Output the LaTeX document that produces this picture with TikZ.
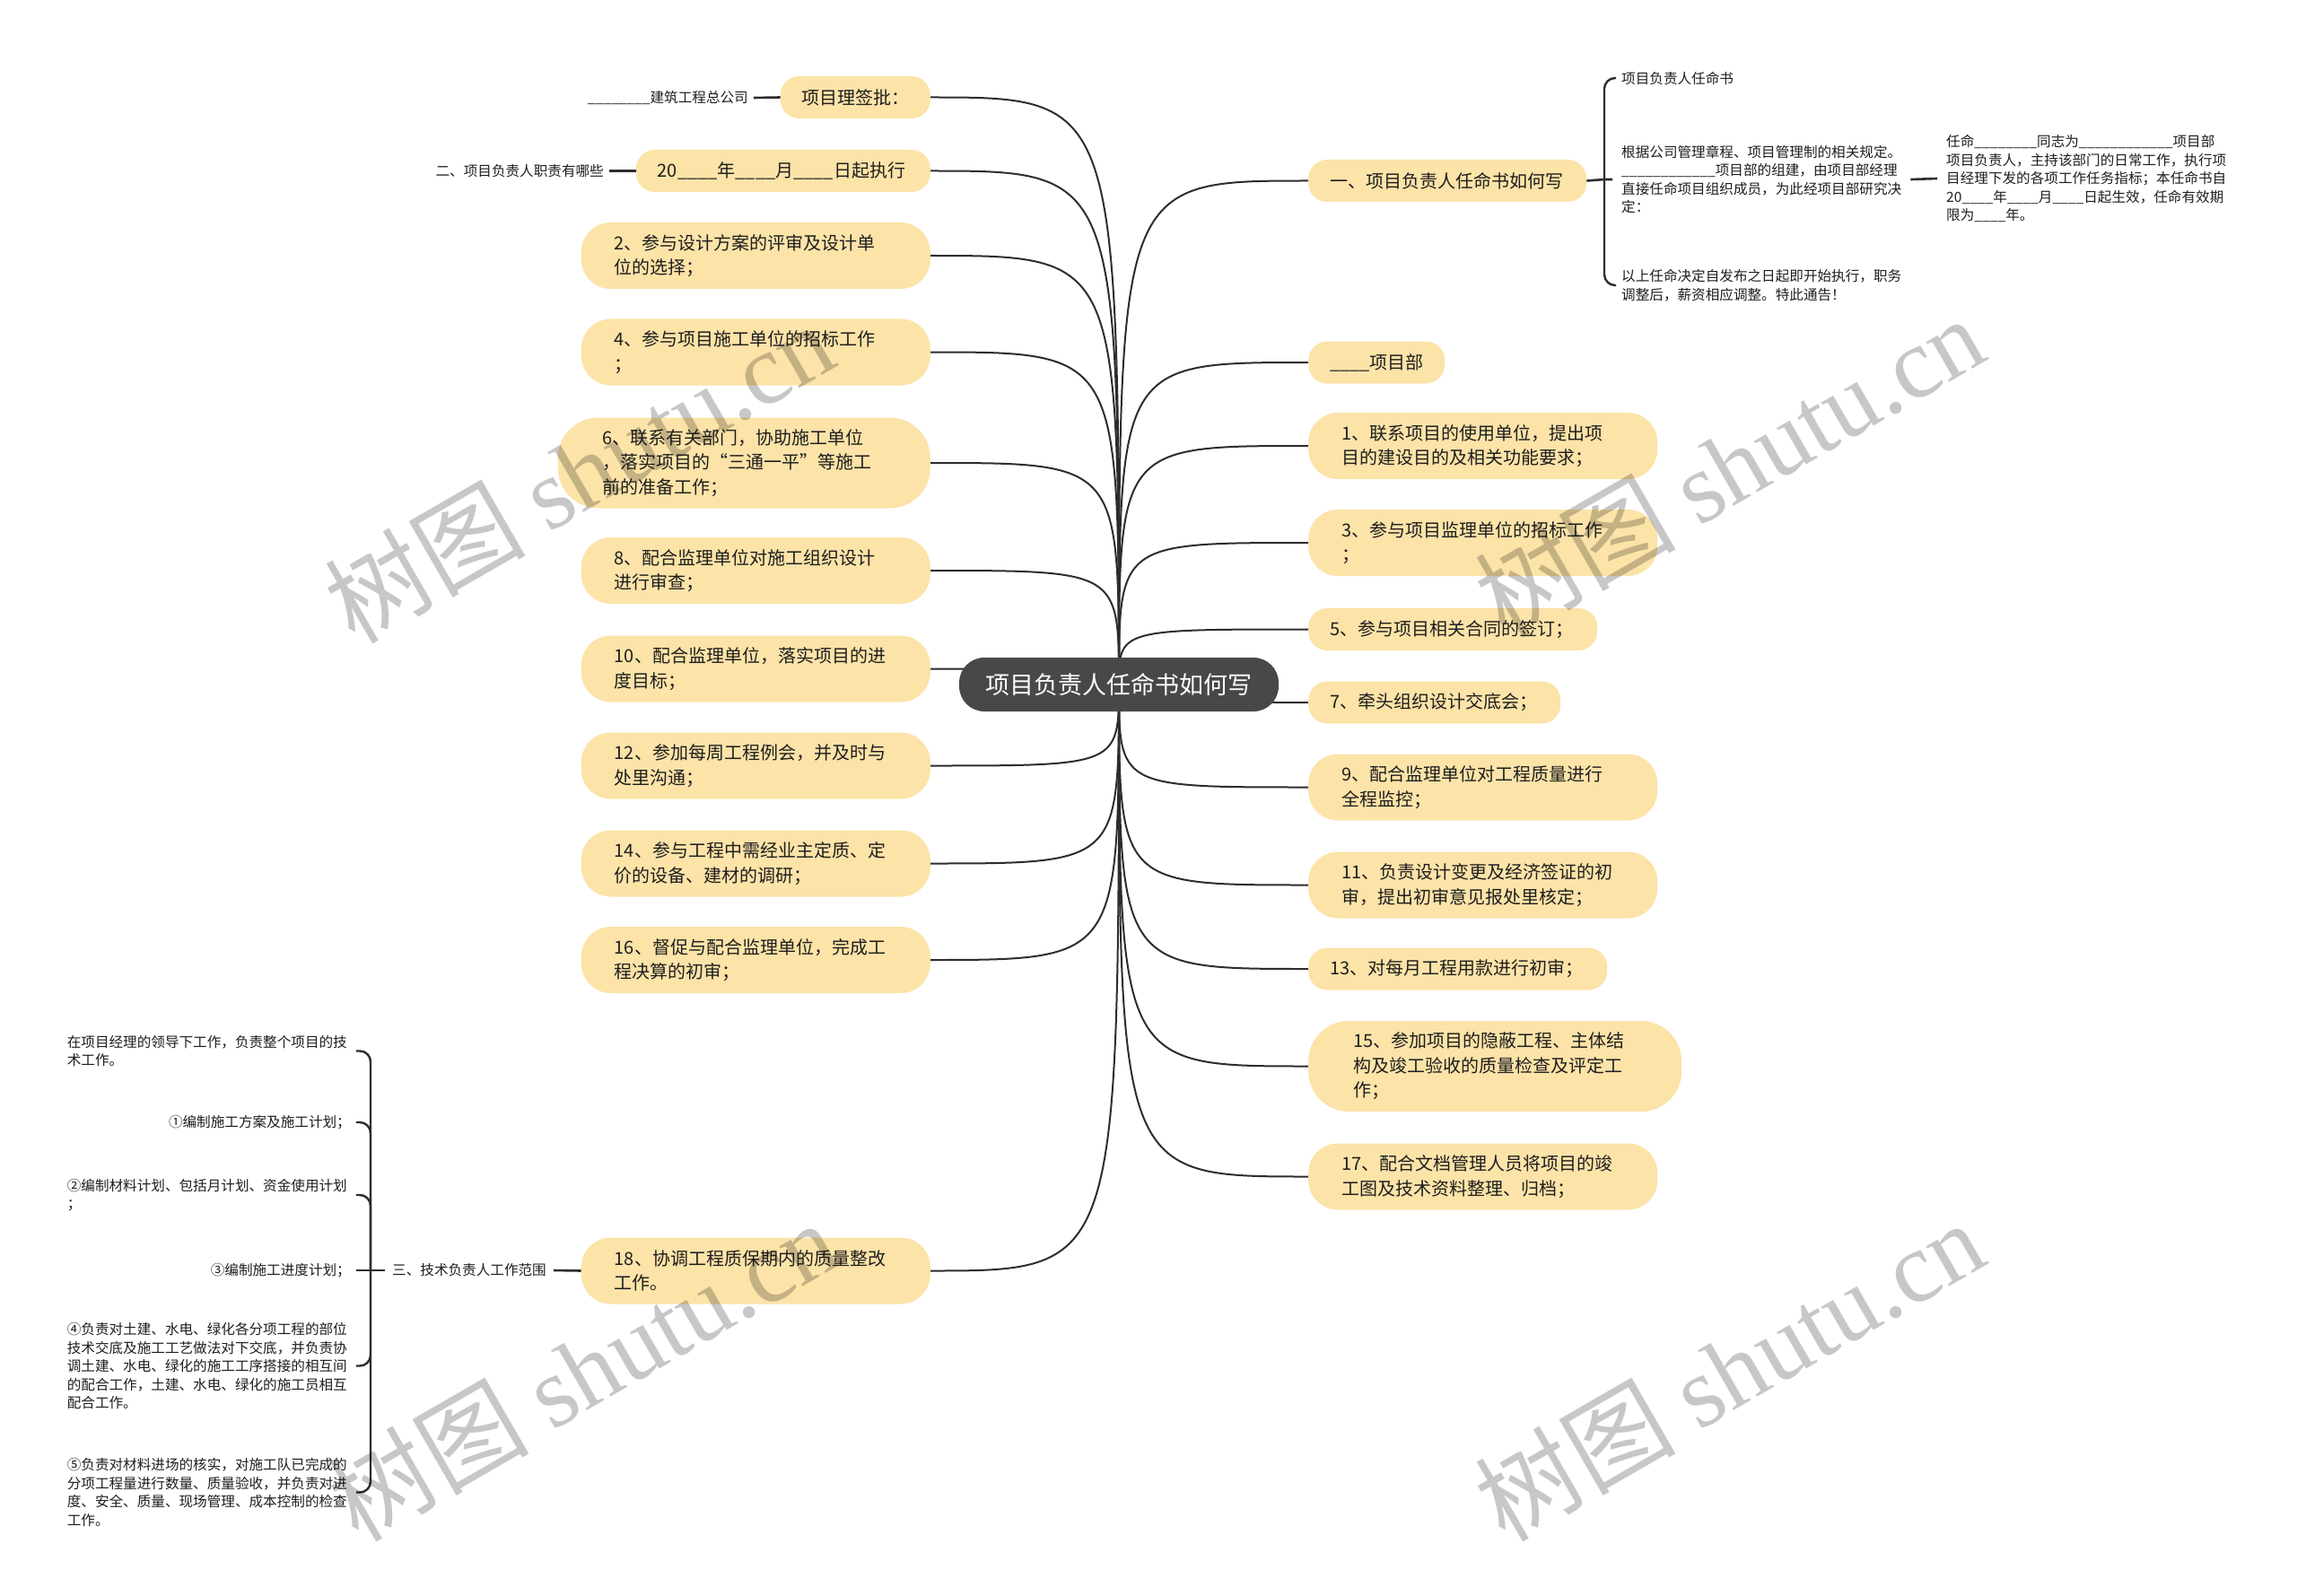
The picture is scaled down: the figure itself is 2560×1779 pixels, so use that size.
\documentclass[tikz,border=0pt]{standalone}
\usepackage{fontspec}
\setmainfont{Noto Sans CJK SC}
\newfontfamily\wmserif{Liberation Serif}
\usetikzlibrary{backgrounds}
\definecolor{peach}{RGB}{252,227,168}
\definecolor{hubgray}{RGB}{72,72,72}
\definecolor{linec}{RGB}{45,45,45}
\definecolor{txt}{RGB}{30,30,30}
\tikzset{
 leafn/.style={fill=peach, draw=none, align=left, inner ysep=0pt, text=txt, font=\fontsize{20pt}{27.5pt}\selectfont},
 oneln/.style={leafn, minimum height=47pt, rounded corners=21pt, inner xsep=24pt},
 twoln/.style={leafn, minimum height=74pt, rounded corners=33pt, inner xsep=37pt},
 threeln/.style={leafn, minimum height=101pt, rounded corners=45pt, inner xsep=50pt},
 hubn/.style={fill=hubgray, draw=none, text=white, rounded corners=28pt, minimum width=356pt, minimum height=60pt, inner sep=0pt, font=\fontsize{27pt}{32pt}\selectfont},
 notet/.style={align=left, inner ysep=0pt, inner xsep=6pt, text=txt, font=\fontsize{15.6pt}{20.5pt}\selectfont},
 conn/.style={draw=linec, line width=2pt},
 tickln/.style={draw=linec, line width=2.6pt},
 bracel/.style={draw=linec, line width=2.4pt, rounded corners=12pt},
 wmark/.style={text=black, text opacity=0.22, rotate=30, inner sep=0pt, font=\fontsize{112pt}{112pt}\selectfont}
}
\begin{document}
\begin{tikzpicture}[x=1pt,y=-1pt]
\useasboundingbox (0,0) rectangle (2560,1779);

% centre
\node[hubn] (ctr) at (1247,763) {项目负责人任命书如何写};

% left column
\node[oneln, text width=119pt, anchor=east] (L1) at (1037,108.5) {项目理签批：};
\node[oneln, text width=280pt, anchor=east] (L2) at (1037,190.5) {20\_\_\_\_年\_\_\_\_月\_\_\_\_日起执行};
\node[twoln, text width=315pt, anchor=east] (L3) at (1037,285) {2、参与设计方案的评审及设计单\\位的选择；};
\node[twoln, text width=315pt, anchor=east] (L4) at (1037,392.5) {4、参与项目施工单位的招标工作\\；};
\node[threeln, text width=315pt, anchor=east] (L5) at (1037,516) {6、联系有关部门，协助施工单位\\，落实项目的“三通一平”等施工\\前的准备工作；};
\node[twoln, text width=315pt, anchor=east] (L6) at (1037,636) {8、配合监理单位对施工组织设计\\进行审查；};
\node[twoln, text width=315pt, anchor=east] (L7) at (1037,745.5) {10、配合监理单位，落实项目的进\\度目标；};
\node[twoln, text width=315pt, anchor=east] (L8) at (1037,853.5) {12、参加每周工程例会，并及时与\\处里沟通；};
\node[twoln, text width=315pt, anchor=east] (L9) at (1037,962.5) {14、参与工程中需经业主定质、定\\价的设备、建材的调研；};
\node[twoln, text width=315pt, anchor=east] (L10) at (1037,1070) {16、督促与配合监理单位，完成工\\程决算的初审；};
\node[twoln, text width=315pt, anchor=east] (L11) at (1037,1416.5) {18、协调工程质保期内的质量整改\\工作。};

% right column
\node[oneln, text width=262pt, anchor=west] (R1) at (1458,201.5) {一、项目负责人任命书如何写};
\node[oneln, text width=104pt, anchor=west] (R2) at (1458,404) {\_\_\_\_项目部};
\node[twoln, text width=315pt, anchor=west] (R3) at (1458,497) {1、联系项目的使用单位，提出项\\目的建设目的及相关功能要求；};
\node[twoln, text width=315pt, anchor=west] (R4) at (1458,605) {3、参与项目监理单位的招标工作\\；};
\node[oneln, text width=274pt, anchor=west] (R5) at (1458,701.5) {5、参与项目相关合同的签订；};
\node[oneln, text width=233pt, anchor=west] (R6) at (1458,783) {7、牵头组织设计交底会；};
\node[twoln, text width=315pt, anchor=west] (R7) at (1458,877.5) {9、配合监理单位对工程质量进行\\全程监控；};
\node[twoln, text width=315pt, anchor=west] (R8) at (1458,986.5) {11、负责设计变更及经济签证的初\\审，提出初审意见报处里核定；};
\node[oneln, text width=285pt, anchor=west] (R9) at (1458,1080) {13、对每月工程用款进行初审；};
\node[threeln, text width=316pt, anchor=west] (R10) at (1458,1188.5) {15、参加项目的隐蔽工程、主体结\\构及竣工验收的质量检查及评定工\\作；};
\node[twoln, text width=315pt, anchor=west] (R11) at (1458,1311.5) {17、配合文档管理人员将项目的竣\\工图及技术资料整理、归档；};

% small notes left top
\node[notet, anchor=east] (S1) at (840,109) {\_\_\_\_\_\_\_\_建筑工程总公司};
\node[notet, anchor=east] (S2) at (679,190.5) {二、项目负责人职责有哪些};

% notes right top
\coordinate (jr) at (1788,200);
\node[notet, anchor=west] (T1) at (1801,87) {项目负责人任命书};
\node[notet, anchor=west, inner xsep=10pt] (T2) at (1797,200) {根据公司管理章程、项目管理制的相关规定。\\\_\_\_\_\_\_\_\_\_\_\_\_项目部的组建，由项目部经理\\直接任命项目组织成员，为此经项目部研究决\\定：};
\node[notet, anchor=west] (T3) at (1801,318) {以上任命决定自发布之日起即开始执行，职务\\调整后，薪资相应调整。特此通告！};
\node[notet, anchor=west, inner xsep=10pt] (T4) at (2159,199) {任命\_\_\_\_\_\_\_\_同志为\_\_\_\_\_\_\_\_\_\_\_\_项目部\\项目负责人，主持该部门的日常工作，执行项\\目经理下发的各项工作任务指标；本任命书自\\20\_\_\_\_年\_\_\_\_月\_\_\_\_日起生效，任命有效期\\限为\_\_\_\_年。};

% notes left bottom
\coordinate (jl) at (413,1416);
\node[notet, anchor=east, text width=316pt] (B1) at (397,1171.5) {在项目经理的领导下工作，负责整个项目的技\\术工作。};
\node[notet, anchor=east] (B2) at (397,1251) {①编制施工方案及施工计划；};
\node[notet, anchor=east, text width=316pt] (B3) at (397,1332) {②编制材料计划、包括月计划、资金使用计划\\；};
\node[notet, anchor=east] (B4) at (397,1416) {③编制施工进度计划；};
\node[notet, anchor=east, text width=316pt] (B5) at (397,1522.5) {④负责对土建、水电、绿化各分项工程的部位\\技术交底及施工工艺做法对下交底，并负责协\\调土建、水电、绿化的施工工序搭接的相互间\\的配合工作，土建、水电、绿化的施工员相互\\配合工作。};
\node[notet, anchor=east, text width=316pt] (B6) at (397,1663.5) {⑤负责对材料进场的核实，对施工队已完成的\\分项工程量进行数量、质量验收，并负责对进\\度、安全、质量、现场管理、成本控制的检查\\工作。};
\node[notet, anchor=west, inner xsep=8pt] (S3) at (429,1416) {三、技术负责人工作范围};

% connectors
\begin{scope}[on background layer]
 \fill[white] (0,0) rectangle (2560,1779);
 \foreach \n in {L1,L2,L3,L4,L5,L6,L7,L8,L9,L10,L11}
   \draw[conn] (ctr.center) .. controls (ctr.center |- \n.east) .. (\n.east);
 \foreach \n in {R1,R2,R3,R4,R5,R6,R7,R8,R9,R10,R11}
   \draw[conn] (ctr.center) .. controls (ctr.center |- \n.west) .. (\n.west);
\end{scope}
\draw[tickln] (S1.east) -- (L1.west);
\draw[tickln] (S2.east) -- (L2.west);
\draw[tickln] (R1.east) -- (jr) -- (T2.west);
\draw[bracel] (T1.west) -| (jr);
\draw[bracel] (T3.west) -| (jr);
\draw[tickln] (T2.east) -- (T4.west);
\foreach \n in {B1,B2,B3,B5,B6}
  \draw[bracel] (\n.east) -| (jl);
\draw[tickln] (B4.east) -- (jl) -- (S3.west);
\draw[tickln] (S3.east) -- (L11.west);

% watermarks
\node[wmark] (W1) at (645,526) {树图 {\wmserif shutu.cn}};
\node[wmark] (W2) at (1927,519) {树图 {\wmserif shutu.cn}};
\node[wmark] (W3) at (649,1527) {树图 {\wmserif shutu.cn}};
\node[wmark] (W4) at (1927,1527) {树图 {\wmserif shutu.cn}};
\end{tikzpicture}
\end{document}
